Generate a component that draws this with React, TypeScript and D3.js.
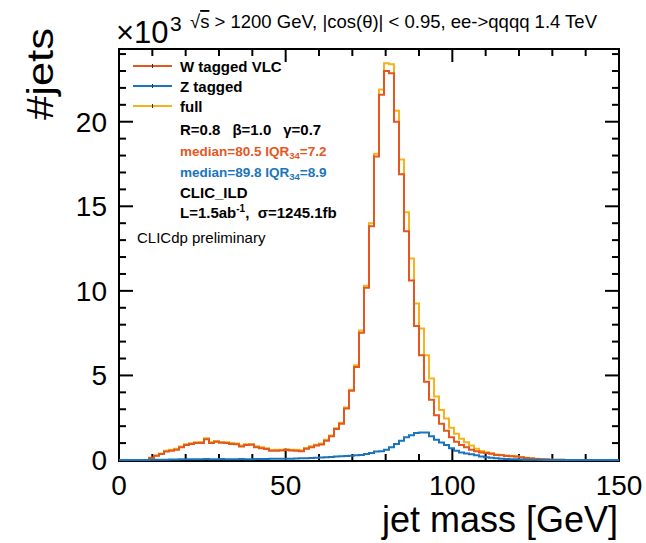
import React from "react";
import * as d3 from "d3";

const binEdgesRange = [0, 150];
const nBins = 100;

const wTagged = [0,0,0,0,0,0,0.12,0.25,0.35,0.5,
 0.55,0.61,0.75,0.88,0.94,1.0,1.0,1.22,1.0,1.08,
 1.02,1.0,0.95,0.93,0.8,0.88,0.9,0.76,0.7,0.65,
 0.54,0.55,0.56,0.59,0.56,0.55,0.52,0.66,0.76,0.85,
 0.92,1.14,1.4,1.83,2.15,3.05,4.09,5.5,7.53,10.19,
 13.82,17.95,21.6,23.0,22.87,20.0,16.9,13.53,10.62,7.93,
 6.2,4.62,3.56,2.65,2.15,1.73,1.34,1.08,0.88,0.75,
 0.61,0.51,0.45,0.41,0.37,0.3,0.28,0.24,0.22,0.2,
 0.16,0.12,0.09,0.06,0.04,0.03,0.02,0.01,0.01,0,
 0,0,0,0,0,0,0,0,0,0];

const full = [0,0,0,0,0,0,0.13,0.27,0.38,0.54,
 0.6,0.66,0.8,0.93,0.99,1.05,1.06,1.28,1.05,1.13,
 1.07,1.05,1.0,0.98,0.85,0.93,0.95,0.81,0.75,0.7,
 0.59,0.6,0.61,0.64,0.61,0.6,0.57,0.71,0.81,0.9,
 0.97,1.19,1.45,1.88,2.2,3.1,4.15,5.6,7.65,10.3,
 14.0,18.1,21.9,23.46,23.4,20.65,17.76,14.65,11.92,9.26,
 7.77,6.19,4.82,3.76,2.95,2.45,1.9,1.55,1.25,1.05,
 0.85,0.66,0.53,0.46,0.4,0.33,0.3,0.26,0.23,0.2,
 0.17,0.13,0.1,0.07,0.05,0.03,0.02,0.01,0.01,0,
 0,0,0,0,0,0,0,0,0,0];

const zTagged = [0,0,0,0,0,0,0.01,0.02,0.02,0.02,
 0.03,0.03,0.04,0.04,0.05,0.05,0.05,0.06,0.05,0.05,
 0.06,0.05,0.05,0.05,0.06,0.05,0.05,0.06,0.06,0.06,
 0.07,0.07,0.07,0.08,0.08,0.09,0.1,0.11,0.12,0.13,
 0.15,0.16,0.18,0.2,0.22,0.23,0.25,0.28,0.3,0.35,
 0.42,0.5,0.52,0.61,0.75,0.94,1.14,1.34,1.47,1.6,
 1.63,1.63,1.4,1.2,1.04,0.88,0.7,0.55,0.45,0.39,
 0.34,0.28,0.21,0.16,0.13,0.1,0.08,0.06,0.05,0.04,
 0.03,0.02,0.02,0.01,0.01,0.01,0,0,0,0,
 0,0,0,0,0,0,0,0,0,0];

const xTickLabels = [0, 50, 100, 150];
const yTickLabels = [0, 5, 10, 15, 20];

const COL_W = "#e4571f";
const COL_Z = "#1b75bd";
const COL_F = "#f4b31c";
const FONT = "'Liberation Sans', Arial, Helvetica, sans-serif";

export default function App() {
  const L = 119, R = 619, T = 49, B = 461;
  const x = d3.scaleLinear().domain(binEdgesRange).range([L, R]);
  const y = d3.scaleLinear().domain([0, 24.3]).range([B - 1, T]);
  const bw = (binEdgesRange[1] - binEdgesRange[0]) / nBins;

  const histPath = (vals: number[]) => {
    const pts: [number, number][] = vals.map((v, i) => [binEdgesRange[0] + i * bw, v]);
    pts.push([binEdgesRange[1], vals[vals.length - 1]]);
    const line = d3.line<[number, number]>()
      .x(d => x(d[0]))
      .y(d => y(d[1]))
      .curve(d3.curveStepAfter);
    return line(pts) || "";
  };

  const xMinor = d3.range(0, 151, 10);
  const yMinor = d3.range(0, 25, 1);

  const legend = [
    { label: "W tagged VLC", color: COL_W, yy: 66 },
    { label: "Z tagged", color: COL_Z, yy: 86 },
    { label: "full", color: COL_F, yy: 106 },
  ];

  return (
    <svg width={646} height={543} style={{ position: "fixed", left: 0, top: 0, background: "#fff" }} fontFamily={FONT}>
      <rect x={0} y={0} width={646} height={543} fill="#fff" />

      {/* frame */}
      <rect x={L} y={T} width={R - L} height={B - T} fill="none" stroke="#000" strokeWidth={2} />

      {/* x ticks */}
      {xMinor.map(v => {
        const major = v % 50 === 0;
        const len = major ? 13 : 7;
        return (
          <g key={"xt" + v}>
            <line x1={x(v)} x2={x(v)} y1={B} y2={B - len} stroke="#000" strokeWidth={2} />
            <line x1={x(v)} x2={x(v)} y1={T} y2={T + len} stroke="#000" strokeWidth={2} />
          </g>
        );
      })}
      {/* y ticks */}
      {yMinor.map(v => {
        const major = v % 5 === 0;
        const len = major ? 14 : 7;
        return (
          <g key={"yt" + v}>
            <line x1={L} x2={L + len} y1={y(v)} y2={y(v)} stroke="#000" strokeWidth={2} />
            <line x1={R} x2={R - len} y1={y(v)} y2={y(v)} stroke="#000" strokeWidth={2} />
          </g>
        );
      })}

      {/* histograms */}
      <path d={histPath(full)} fill="none" stroke={COL_F} strokeWidth={2} />
      <path d={histPath(wTagged)} fill="none" stroke={COL_W} strokeWidth={2} />
      <path d={histPath(zTagged)} fill="none" stroke={COL_Z} strokeWidth={2} />

      {/* tick labels */}
      {xTickLabels.map(v => (
        <text key={"xl" + v} x={x(v)} y={495} fontSize={28} textAnchor="middle">{v}</text>
      ))}
      {yTickLabels.map(v => (
        <text key={"yl" + v} x={107} y={y(v) + 10} fontSize={28} textAnchor="end">{v}</text>
      ))}

      {/* axis titles */}
      <text x={618} y={532} fontSize={36} textAnchor="end">jet mass [GeV]</text>
      <text transform="translate(53,28) rotate(-90)" fontSize={37} textAnchor="end" textLength={92} lengthAdjust="spacingAndGlyphs">#jets</text>

      {/* exponent */}
      <text x={116} y={43} fontSize={31}>×10</text>
      <text x={170} y={31} fontSize={21}>3</text>

      {/* header */}
      <text x={190} y={28} fontSize={18.5}>
        <tspan>√</tspan><tspan textDecoration="overline">s</tspan><tspan>{" > 1200 GeV, |cos(θ)| < 0.95, ee->qqqq 1.4 TeV"}</tspan>
      </text>

      {/* legend */}
      {legend.map(l => (
        <g key={l.label}>
          <line x1={133} x2={172} y1={l.yy} y2={l.yy} stroke={l.color} strokeWidth={2} />
          <line x1={152.5} x2={152.5} y1={l.yy - 2} y2={l.yy + 2} stroke="#333" strokeWidth={1} />
          <text x={180} y={l.yy + 5.5} fontSize={15} fontWeight="bold">{l.label}</text>
        </g>
      ))}
      <text x={180} y={135} fontSize={15} fontWeight="bold" style={{ whiteSpace: "pre" }}>
        <tspan>R=0.8</tspan><tspan dx={12}>β=1.0</tspan><tspan dx={12}>γ=0.7</tspan>
      </text>
      <text x={180} y={156} fontSize={13.5} fontWeight="bold" fill={COL_W}>
        median=80.5 IQR<tspan fontSize={9.5} dy={3}>34</tspan><tspan dy={-3}>=7.2</tspan>
      </text>
      <text x={180} y={177} fontSize={13.5} fontWeight="bold" fill={COL_Z}>
        median=89.8 IQR<tspan fontSize={9.5} dy={3}>34</tspan><tspan dy={-3}>=8.9</tspan>
      </text>
      <text x={180} y={197.5} fontSize={15} fontWeight="bold">CLIC_ILD</text>
      <text x={180} y={217.5} fontSize={15} fontWeight="bold" style={{ whiteSpace: "pre" }}>
        L=1.5ab<tspan fontSize={10} dy={-6}>-1</tspan><tspan dy={6}>,  σ=1245.1fb</tspan>
      </text>
      <text x={137} y={243} fontSize={15}>CLICdp preliminary</text>
    </svg>
  );
}
